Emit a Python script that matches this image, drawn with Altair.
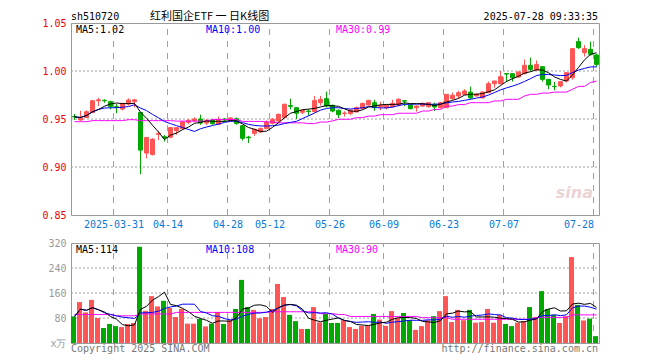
import altair as alt
import pandas as pd

DATE_TICKS = [7, 16, 26, 33, 43, 52, 62, 72, 87]
DATE_LABELS = ["2025-03-31", "04-14", "04-28", "05-12", "05-26", "06-09", "06-23", "07-07", "07-28"]
PRICE_TICKS = [0.85, 0.90, 0.95, 1.00, 1.05]
VOLUME_TICKS = [0, 80, 160, 240, 320]

OPEN = [0.9526, 0.9490, 0.9515, 0.9568, 0.9690, 0.9695, 0.9680, 0.9628, 0.9604, 0.9656,
        0.9680, 0.9568, 0.9145, 0.9130, 0.9340, 0.9315, 0.9310, 0.9378, 0.9400, 0.9465,
        0.9483, 0.9500, 0.9458, 0.9485, 0.9445, 0.9500, 0.9490, 0.9503, 0.9430, 0.9312,
        0.9350, 0.9365, 0.9400, 0.9455, 0.9480, 0.9514, 0.9640, 0.9618, 0.9570, 0.9583,
        0.9576, 0.9670, 0.9712, 0.9642, 0.9590, 0.9558, 0.9556, 0.9573, 0.9610, 0.9646,
        0.9670, 0.9625, 0.9618, 0.9628, 0.9646, 0.9690, 0.9646, 0.9618, 0.9635, 0.9628,
        0.9653, 0.9618, 0.9618, 0.9712, 0.9740, 0.9757, 0.9780, 0.9740, 0.9720, 0.9774,
        0.9868, 0.9868, 0.9972, 0.9972, 0.9938, 0.9972, 1.0059, 1.0010, 1.0045, 0.9913,
        0.9840, 0.9844, 0.9896, 0.9930, 1.0306, 1.0190, 1.0226, 1.0167]
HIGH = [0.9552, 0.9587, 0.9590, 0.9695, 0.9720, 0.9705, 0.9690, 0.9656, 0.9670, 0.9715,
        0.9710, 0.9570, 0.9310, 0.9300, 0.9372, 0.9333, 0.9415, 0.9415, 0.9480, 0.9500,
        0.9517, 0.9545, 0.9500, 0.9500, 0.9525, 0.9510, 0.9520, 0.9515, 0.9435, 0.9325,
        0.9400, 0.9410, 0.9485, 0.9510, 0.9555, 0.9660, 0.9712, 0.9625, 0.9600, 0.9600,
        0.9740, 0.9740, 0.9785, 0.9650, 0.9600, 0.9580, 0.9600, 0.9630, 0.9670, 0.9700,
        0.9700, 0.9680, 0.9653, 0.9700, 0.9715, 0.9690, 0.9650, 0.9640, 0.9670, 0.9675,
        0.9670, 0.9680, 0.9760, 0.9775, 0.9792, 0.9810, 0.9837, 0.9767, 0.9790, 0.9890,
        0.9896, 1.0000, 0.9975, 0.9975, 0.9995, 1.0120, 1.0140, 1.0110, 1.0050, 0.9915,
        0.9885, 0.9895, 0.9990, 1.0240, 1.0347, 1.0270, 1.0306, 1.0180]
LOW = [0.9490, 0.9480, 0.9510, 0.9560, 0.9635, 0.9670, 0.9600, 0.9560, 0.9590, 0.9640,
       0.9620, 0.8925, 0.9090, 0.9120, 0.9280, 0.9265, 0.9300, 0.9335, 0.9390, 0.9445,
       0.9465, 0.9440, 0.9438, 0.9440, 0.9440, 0.9470, 0.9485, 0.9440, 0.9275, 0.9250,
       0.9325, 0.9355, 0.9395, 0.9445, 0.9470, 0.9510, 0.9600, 0.9500, 0.9550, 0.9535,
       0.9570, 0.9640, 0.9620, 0.9570, 0.9510, 0.9525, 0.9540, 0.9570, 0.9600, 0.9640,
       0.9585, 0.9590, 0.9601, 0.9620, 0.9630, 0.9635, 0.9600, 0.9576, 0.9625, 0.9620,
       0.9583, 0.9610, 0.9615, 0.9700, 0.9712, 0.9750, 0.9705, 0.9735, 0.9715, 0.9770,
       0.9826, 0.9860, 0.9885, 0.9890, 0.9930, 0.9965, 0.9995, 1.0000, 0.9890, 0.9810,
       0.9800, 0.9830, 0.9880, 0.9910, 1.0230, 1.0150, 1.0160, 1.0040]
CLOSE = [0.9522, 0.9510, 0.9576, 0.9690, 0.9700, 0.9690, 0.9630, 0.9622, 0.9662, 0.9698,
         0.9700, 0.9176, 0.9308, 0.9290, 0.9350, 0.9305, 0.9410, 0.9410, 0.9470, 0.9486,
         0.9500, 0.9458, 0.9483, 0.9452, 0.9490, 0.9490, 0.9510, 0.9455, 0.9299, 0.9305,
         0.9392, 0.9400, 0.9469, 0.9497, 0.9549, 0.9653, 0.9632, 0.9560, 0.9590, 0.9578,
         0.9692, 0.9705, 0.9635, 0.9583, 0.9545, 0.9562, 0.9590, 0.9618, 0.9663, 0.9694,
         0.9618, 0.9642, 0.9642, 0.9663, 0.9705, 0.9686, 0.9608, 0.9635, 0.9663, 0.9670,
         0.9625, 0.9670, 0.9757, 0.9747, 0.9774, 0.9792, 0.9720, 0.9757, 0.9780, 0.9868,
         0.9896, 0.9941, 0.9968, 0.9930, 0.9990, 1.0059, 1.0017, 1.0069, 0.9913, 0.9854,
         0.9837, 0.9889, 0.9983, 1.0233, 1.0243, 1.0233, 1.0174, 1.0069]
VOLUME = [85, 131, 98, 138, 80, 48, 61, 54, 51, 61,
          64, 308, 103, 150, 117, 135, 112, 83, 109, 62,
          62, 77, 53, 62, 99, 61, 73, 109, 202, 115,
          106, 79, 83, 109, 189, 147, 90, 70, 45, 45,
          115, 66, 93, 64, 64, 73, 51, 45, 55, 55,
          93, 75, 55, 102, 80, 96, 73, 42, 54, 73,
          86, 102, 150, 67, 106, 73, 106, 65, 67, 109,
          65, 90, 61, 54, 65, 70, 115, 83, 166, 109,
          90, 64, 86, 275, 122, 72, 78, 22]
MA30_PRICE = [0.9472, 0.9472, 0.9472, 0.9483, 0.9483, 0.9483, 0.9483, 0.9483, 0.9483, 0.9493,
              0.9493, 0.9483, 0.9483, 0.9483, 0.9483, 0.9483, 0.9483, 0.9478, 0.9478, 0.9478,
              0.9478, 0.9478, 0.9478, 0.9495, 0.9495, 0.9495, 0.9495, 0.9495, 0.9475, 0.9475,
              0.9475, 0.9475, 0.9470, 0.9470, 0.9460, 0.9460, 0.9460, 0.9460, 0.9460, 0.9452,
              0.9452, 0.9468, 0.9468, 0.9480, 0.9497, 0.9497, 0.9497, 0.9514, 0.9514, 0.9530,
              0.9530, 0.9545, 0.9545, 0.9545, 0.9560, 0.9560, 0.9560, 0.9560, 0.9583, 0.9583,
              0.9600, 0.9600, 0.9635, 0.9635, 0.9650, 0.9650, 0.9670, 0.9670, 0.9670, 0.9670,
              0.9688, 0.9688, 0.9705, 0.9705, 0.9705, 0.9740, 0.9757, 0.9757, 0.9770, 0.9770,
              0.9780, 0.9780, 0.9780, 0.9810, 0.9840, 0.9840, 0.9880, 0.9896]
MA30_VOL = [91, 91, 91, 91, 91, 91, 91, 87, 87, 87,
            87, 93, 93, 93, 93, 93, 93, 98, 98, 98,
            98, 98, 98, 98, 98, 98, 98, 98, 98, 98,
            98, 98, 98, 100, 100, 100, 100, 100, 100, 100,
            100, 94, 94, 94, 91, 91, 85, 85, 85, 85,
            85, 85, 85, 85, 85, 85, 85, 85, 81, 81,
            81, 81, 81, 76, 76, 76, 76, 76, 76, 76,
            76, 76, 76, 76, 76, 76, 76, 82, 82, 82,
            82, 82, 82, 90, 90, 90, 90, 90]

RED = "#ff5555"
GREEN = "#00a800"
LABEL_RED = "#ee0000"
DATE_BLUE = "#0a78d6"
GRID = "#a0a0a0"
MONO = "DejaVu Sans Mono"
CJK = "Noto Sans CJK SC"

n = len(CLOSE)
df = pd.DataFrame({
    "i": list(range(n)),
    "open": OPEN, "high": HIGH, "low": LOW, "close": CLOSE,
    "volume": VOLUME, "ma30": MA30_PRICE, "vma30": MA30_VOL,
})
df["dir"] = ["up" if c >= o else "down" for o, c in zip(OPEN, CLOSE)]

base = (
    alt.Chart(df)
    .transform_calculate(xc="datum.i + 0.5", xv="datum.i + 0.3333")
    .transform_window(ma5="mean(close)", vma5="mean(volume)", frame=[-4, 0], sort=[alt.SortField("i")])
    .transform_window(ma10="mean(close)", vma10="mean(volume)", frame=[-9, 0], sort=[alt.SortField("i")])
)

XS = alt.Scale(domain=[-1 / 12, 88 - 1 / 12], nice=False, zero=False, padding=0)
YP = alt.Scale(domain=[0.85, 1.05], nice=False, zero=False, padding=0)
YV = alt.Scale(domain=[0, 320], nice=False, zero=False, padding=0)
COL = alt.Scale(domain=["up", "down"], range=[RED, GREEN])

label_expr = "[" + ",".join("'%s'" % s for s in DATE_LABELS) + "][indexof([" + ",".join(
    str(v) for v in DATE_TICKS) + "], datum.value)]"

X_PRICE_AXIS = dict(values=DATE_TICKS, labelExpr=label_expr, grid=False,
                    ticks=False, domain=False, labelColor=DATE_BLUE,
                    labelFont=MONO, labelFontSize=10, labelPadding=4, labelFlush=8,
                    labelOverlap=False, title=None)
Y_PRICE_AXIS = dict(values=PRICE_TICKS, format=".2f", labelColor=LABEL_RED, labelFont=MONO,
                    labelFontSize=10, labelPadding=5, grid=False,
                    ticks=False, domain=False, minExtent=62, maxExtent=62,
                    title=None)
X_VOL_AXIS = dict(values=DATE_TICKS, labels=False, grid=False,
                  ticks=False, domain=False, title=None)
Y_VOL_AXIS = dict(values=VOLUME_TICKS, labelExpr="datum.value == 0 ? 'x万' : datum.label",
                  labelColor="#999999", labelFont=MONO, labelFontSize=10, labelPadding=5,
                  grid=False, ticks=False, domain=False,
                  minExtent=62, maxExtent=62, title=None)


def xenc(field, axis):
    return alt.X(field + ":Q", scale=XS, axis=alt.Axis(**axis))


def yenc(field, scale, axis):
    return alt.Y(field + ":Q", scale=scale, axis=alt.Axis(**axis))


def static_text(text, x, y, color, size=10, align="left", font=MONO, **kw):
    return alt.Chart(alt.Data(values=[{}])).mark_text(
        text=text, align=align, baseline="middle", font=font, fontSize=size, color=color, **kw
    ).encode(x=alt.value(x), y=alt.value(y))


def ma_text(expr, x, color):
    return (base.transform_filter("datum.i == %d" % (n - 1))
            .transform_calculate(lbl=expr)
            .mark_text(align="left", baseline="middle", font=MONO, fontSize=10, color=color)
            .encode(x=alt.value(x), y=alt.value(7), text="lbl:N"))


def vgrid(xaxis, yscale, yaxis, ylo, yhi):
    # vertical dashed lines at the date ticks, taken from the candle rows themselves
    return (base.transform_filter(alt.FieldOneOfPredicate(field="i", oneOf=DATE_TICKS))
            .transform_calculate(ylo=str(ylo), yhi=str(yhi))
            .mark_rule(color=GRID, strokeWidth=1, strokeDash=[6, 6])
            .encode(x=xenc("i", xaxis), y=yenc("ylo", yscale, yaxis), y2="yhi:Q"))


def hgrid(values, scale, yaxis, xaxis):
    arr = "[" + ",".join(repr(v) for v in values) + "]"
    return (base.transform_filter("datum.i == 0")
            .transform_calculate(gv=arr, xlo=str(-1 / 12), xhi=str(88 - 1 / 12))
            .transform_flatten(["gv"])
            .mark_rule(color=GRID, strokeWidth=1, strokeDash=[2, 2])
            .encode(y=yenc("gv", scale, yaxis), x=xenc("xlo", xaxis), x2="xhi:Q"))


wick = base.mark_rule(strokeWidth=1).encode(
    x=xenc("xc", X_PRICE_AXIS),
    y=yenc("low", YP, Y_PRICE_AXIS),
    y2="high:Q",
    color=alt.Color("dir:N", scale=COL, legend=None),
)
body = base.mark_bar(size=4, strokeWidth=1).encode(
    x=xenc("xc", X_PRICE_AXIS),
    y=yenc("open", YP, Y_PRICE_AXIS),
    y2="close:Q",
    color=alt.Color("dir:N", scale=COL, legend=None),
    stroke=alt.Stroke("dir:N", scale=COL, legend=None),
)


def ma_line(field, color, yscale, xaxis, yaxis):
    return base.mark_line(color=color, strokeWidth=1).encode(
        x=xenc("xc", xaxis),
        y=yenc(field, yscale, yaxis),
    )


price = alt.layer(
    vgrid(X_PRICE_AXIS, YP, Y_PRICE_AXIS, 0.85, 1.05),
    hgrid(PRICE_TICKS[1:-1], YP, Y_PRICE_AXIS, X_PRICE_AXIS),
    wick, body,
    ma_line("ma30", "#ff00ff", YP, X_PRICE_AXIS, Y_PRICE_AXIS),
    ma_line("ma10", "#0000ff", YP, X_PRICE_AXIS, Y_PRICE_AXIS),
    ma_line("ma5", "#000000", YP, X_PRICE_AXIS, Y_PRICE_AXIS),
    ma_text("'MA5:' + format(datum.ma5, '.2f')", 5, "#000000"),
    ma_text("'MA10:' + format(datum.ma10, '.2f')", 135, "#0000ff"),
    ma_text("'MA30:' + format(datum.ma30, '.2f')", 265, "#ff00ff"),
    static_text("sh510720", 0, -6, "#000000"),
    static_text("红利国企ETF 一 日K线图", 79, -6, "#000000", size=11, font=CJK),
    static_text("2025-07-28 09:33:35", 527, -6, "#000000", align="right"),
    static_text("sina", 522, 170, "#ead4d4", size=16, align="right", font="DejaVu Sans",
                fontStyle="italic", fontWeight="bold"),
).properties(width=528, height=192)

vol_bars = base.mark_bar(size=5).encode(
    x=xenc("xv", X_VOL_AXIS),
    y=yenc("volume", YV, Y_VOL_AXIS),
    color=alt.Color("dir:N", scale=COL, legend=None),
)

volume = alt.layer(
    vgrid(X_VOL_AXIS, YV, Y_VOL_AXIS, 0, 320),
    hgrid(VOLUME_TICKS[1:-1], YV, Y_VOL_AXIS, X_VOL_AXIS),
    vol_bars,
    ma_line("vma30", "#ff00ff", YV, X_VOL_AXIS, Y_VOL_AXIS),
    ma_line("vma10", "#0000ff", YV, X_VOL_AXIS, Y_VOL_AXIS),
    ma_line("vma5", "#000000", YV, X_VOL_AXIS, Y_VOL_AXIS),
    ma_text("'MA5:' + format(datum.vma5, '.0f')", 5, "#000000"),
    ma_text("'MA10:' + format(datum.vma10, '.0f')", 135, "#0000ff"),
    ma_text("'MA30:' + format(datum.vma30, '.0f')", 265, "#ff00ff"),
    static_text("Copyright 2025 SINA.COM", 0, 106, "#777777"),
    static_text("http://finance.sina.com.cn", 527, 106, "#777777", align="right"),
).properties(width=528, height=100)

chart = (
    alt.vconcat(price, volume, spacing=28, bounds="flush")
    .properties(padding={"top": 2, "left": 0, "right": 0, "bottom": 0}, background="white")
    .configure_view(stroke="#999999", strokeWidth=1)
)

chart.save("out.html", embed_options={"renderer": "svg", "actions": False})
